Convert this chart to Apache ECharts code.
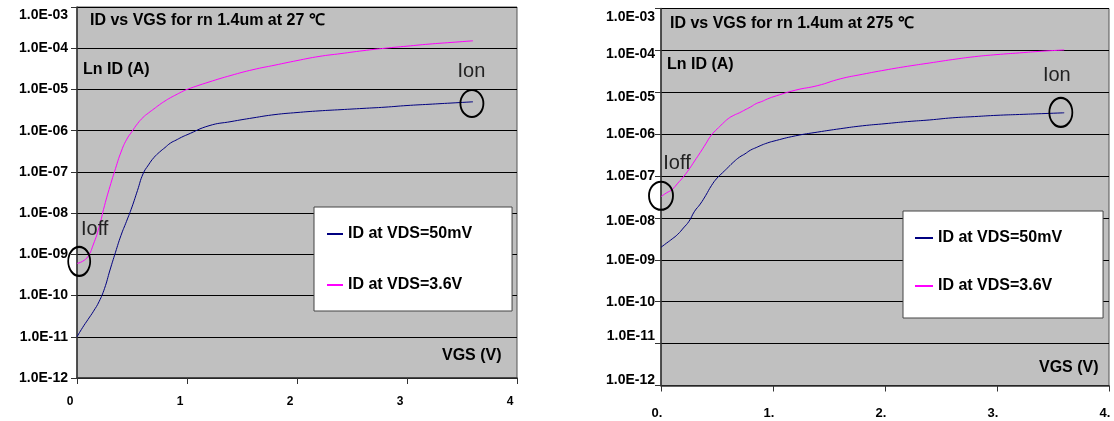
<!DOCTYPE html>
<html><head><meta charset="utf-8">
<script src="https://cdn.jsdelivr.net/npm/echarts@6/dist/echarts.min.js"></script>
<style>html,body{margin:0;padding:0;background:#fff}#c{width:1114px;height:421px}</style>
</head><body><div id="c"></div>
<script>
// VGS (V) sample points
const vgs = [0,0.05,0.1,0.15,0.2,0.25,0.3,0.35,0.4,0.45,0.5,0.55,0.6,0.65,0.7,0.75,0.8,0.85,0.9,0.95,1.0,1.2,1.4,1.6,1.8,2.0,2.2,2.4,2.6,2.8,3.0,3.2,3.4,3.6];
// ID, given as log10(ID / A)
// 27 °C
const log10_id27_50mV = [-11.0,-10.78,-10.58,-10.38,-10.15,-9.83,-9.38,-8.95,-8.54,-8.2,-7.85,-7.45,-7.05,-6.83,-6.65,-6.52,-6.41,-6.3,-6.23,-6.16,-6.1,-5.88,-5.78,-5.69,-5.61,-5.56,-5.52,-5.49,-5.46,-5.43,-5.39,-5.36,-5.33,-5.3];
const log10_id27_36V = [-9.22,-9.17,-9.05,-8.75,-8.35,-7.82,-7.35,-6.92,-6.52,-6.22,-6.02,-5.83,-5.68,-5.57,-5.47,-5.37,-5.28,-5.2,-5.13,-5.06,-5.0,-4.82,-4.66,-4.52,-4.41,-4.3,-4.2,-4.13,-4.06,-4.0,-3.95,-3.9,-3.86,-3.82];
// 275 °C
const log10_id275_50mV = [-8.7,-8.6,-8.5,-8.39,-8.24,-8.08,-7.84,-7.67,-7.46,-7.23,-7.05,-6.92,-6.79,-6.66,-6.55,-6.47,-6.38,-6.32,-6.26,-6.21,-6.17,-6.04,-5.95,-5.87,-5.8,-5.75,-5.7,-5.66,-5.61,-5.58,-5.55,-5.53,-5.51,-5.49];
const log10_id275_36V = [-7.49,-7.4,-7.32,-7.17,-7.02,-6.84,-6.64,-6.44,-6.23,-6.02,-5.88,-5.75,-5.63,-5.55,-5.49,-5.42,-5.35,-5.27,-5.22,-5.16,-5.11,-4.95,-4.84,-4.68,-4.57,-4.47,-4.38,-4.3,-4.22,-4.15,-4.1,-4.06,-4.02,-3.99];
// Ion / Ioff annotation points: [VGS, log10(ID)]
const ion27 = [3.59, -5.34], ioff27 = [0.02, -9.17];
const ion275 = [3.57, -5.48], ioff275 = [0.0, -7.47];
const seriesNames = ['ID at VDS=50mV','ID at VDS=3.6V'];
const titles = ['ID vs VGS for rn 1.4um at 27 \u2103','ID vs VGS for rn 1.4um at 275 \u2103'];
const yName = 'Ln ID (A)';
const xName = 'VGS (V)';
const yMin = 1e-12, yMax = 1e-3;
const xMin = 0, xMax = 4;

const FONT = '"Liberation Sans", Arial, sans-serif';
const BLUE = '#000080', MAG = '#ff00ff';
const ELL = 'path://M0,10 A10,10 0 1,1 20,10 A10,10 0 1,1 0,10 Z';

const p10 = (e)=>Math.pow(10, e);
function pair(a){ return vgs.map((x,i)=>[x, p10(a[i])]); }
function yLabelFmt(shifts){
  return function(v){
    const e = Math.round(-Math.log10(v));
    const t = '1.0E-' + (e<10?'0':'') + e;
    const s = shifts[e] || 0;
    return '{s' + (s<0?'m'+(-s):s) + '|' + t + '}';
  };
}
function richFor(size){
  const r = {};
  for (let s=-10;s<=12;s++){
    const k = 's' + (s<0?'m'+(-s):s);
    r[k] = {fontFamily:FONT,fontWeight:'bold',fontSize:size,color:'#000',
      padding: s>=0 ? [2*s,0,0,0] : [0,0,-2*s,0]};
  }
  return r;
}

const chart = echarts.init(document.getElementById('c'), null, {renderer:'canvas'});
function yAxis(gi, size, margin, shifts){
  return {type:'log', logBase:10, gridIndex:gi, min:yMin, max:yMax, splitNumber:9,
    axisLine:{show:true,lineStyle:{color:'#333',width:1.5}},
    axisTick:{show:true,length:6,lineStyle:{color:'#333'}},
    minorTick:{show:false},
    splitLine:{show:true,lineStyle:{color:'#000',width:1}},
    axisLabel:{margin:margin, formatter:yLabelFmt(shifts), rich:richFor(size)}};
}
function xAxis(gi, size, margin, padR, suffix){
  return {type:'value', gridIndex:gi, min:xMin, max:xMax, interval:1,
    axisLine:{show:true,onZero:false,lineStyle:{color:'#333',width:1.5}},
    axisTick:{show:true,length:6,lineStyle:{color:'#333'}},
    splitLine:{show:false},
    axisLabel:{margin:margin, padding:[0,padR,0,0], fontFamily:FONT, fontWeight:'bold', fontSize:size, color:'#000',
      formatter:(v)=> String(v) + suffix}};
}
function mp(name, pt, size, off){
  return {name:name, coord:[pt[0], p10(pt[1])], symbol:ELL, symbolSize:size, symbolKeepAspect:false,
    itemStyle:{color:'rgba(0,0,0,0)', borderColor:'#000', borderWidth:2},
    label:{show:true, position:'inside', offset:off, fontFamily:FONT, fontSize:20, color:'#222', formatter:'{b}'}};
}
function lineSeries(name, data, color, gi, marks){
  const s = {name:name, type:'line', xAxisIndex:gi, yAxisIndex:gi, data:pair(data), showSymbol:false, symbol:'none',
    smooth:0.5, lineStyle:{color:color,width:1}, itemStyle:{color:color}, z:3};
  if (marks) s.markPoint = {silent:true, data:marks};
  return s;
}
function legend(left, top, pad, gap, iw, size, lh){
  return {show:true, orient:'vertical', left:left, top:top, padding:pad, itemGap:gap,
    itemWidth:iw, itemHeight:2, icon:'rect', backgroundColor:'#fff', borderColor:'#444', borderWidth:1,
    data:seriesNames, selectedMode:false,
    textStyle:{fontFamily:FONT,fontWeight:'bold',fontSize:size,color:'#000',lineHeight:lh}};
}
function txt(x,y,t,size,bold){
  return {type:'text', x:x, y:y, style:{text:t, font:(bold?'bold ':'')+size+'px '+FONT, fill:'#000', verticalAlign:'middle', align:'left'}};
}

const option = {
  backgroundColor:'#fff',
  animation:false,
  grid:[
    {left:77, top:7, width:440, height:371, show:true, backgroundColor:'#c0c0c0', borderColor:'#555', borderWidth:1},
    {left:661, top:8.5, width:448, height:377, show:true, backgroundColor:'#c0c0c0', borderColor:'#555', borderWidth:1}
  ],
  xAxis:[xAxis(0,12,18,14,''), xAxis(1,13,21,8,'.')],
  yAxis:[yAxis(0,14,9,{3:8}), yAxis(1,14,6,{3:9,4:4,5:5,8:3,11:-7,12:-5})],
  legend:[legend(314,207,[18,40,17,13],33,16,16,18), legend(903,211,[18,41,23,12],30,18,16,18)],
  series:[
    lineSeries(seriesNames[0], log10_id27_50mV, BLUE, 0, [mp('Ion', ion27, [23,27], [-0.5,-31.5])]),
    lineSeries(seriesNames[1], log10_id27_36V, MAG, 0, [mp('Ioff', ioff27, [22,29], [15.5,-32])]),
    lineSeries(seriesNames[0], log10_id275_50mV, BLUE, 1, [mp('Ion', ion275, [23,29], [-4,-36.5])]),
    lineSeries(seriesNames[1], log10_id275_36V, MAG, 1, [mp('Ioff', ioff275, [24,28], [16,-32])])
  ],
  graphic:[
    txt(90,21,titles[0],16,true),
    txt(83,70,yName,16,true),
    txt(442,356,xName,16,true),
    txt(670,23.5,titles[1],16,true),
    txt(667,65,yName,16,true),
    txt(1039,368,xName,16,true)
  ]
};
chart.setOption(option);
</script></body></html>
